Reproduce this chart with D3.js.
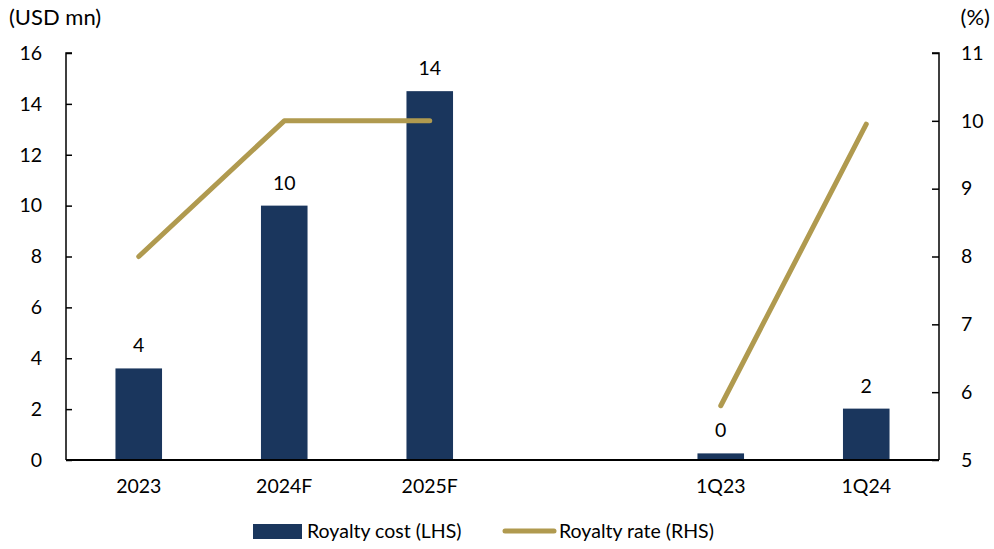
<!DOCTYPE html>
<html>
<head>
<meta charset="utf-8">
<script src="https://cdn.jsdelivr.net/npm/d3@7"></script>
<style>
  body { margin: 0; background: #fff; }
  svg text { font-family: Lato, "Open Sans", sans-serif; fill: #000; }
</style>
</head>
<body>
<svg id="chart" width="994" height="549"></svg>
<script>
// data
const categories = ['2023', '2024F', '2025F', '', '1Q23', '1Q24']
const royaltyCost = [3.6, 10, 14.5, null, 0.26, 2.02]
const costLabels = ['4', '10', '14', '', '0', '2']
const royaltyRate = [8, 10, 10, null, 5.8, 9.95]
const leftTicks = [0, 2, 4, 6, 8, 10, 12, 14, 16]
const rightTicks = [5, 6, 7, 8, 9, 10, 11]

const barColor = '#1a365d'
const lineColor = '#b09a4f'
const fontSize = 19.5

const svg = d3.select('#chart')
const margin = { top: 53, right: 55, bottom: 89, left: 66 }
const width = 994
const height = 549

const x = d3.scaleBand()
    .domain(categories.map((c, i) => i))
    .range([margin.left, width - margin.right])
    .paddingInner(0.68)
    .paddingOuter(0.34)

const yLeft = d3.scaleLinear().domain([0, 16]).range([height - margin.bottom, margin.top])
const yRight = d3.scaleLinear().domain([5, 11]).range([height - margin.bottom, margin.top])

// bars
svg.append('g').selectAll('rect')
    .data(royaltyCost.map((v, i) => ({ v, i })).filter(d => d.v !== null))
    .join('rect')
    .attr('x', d => x(d.i))
    .attr('width', x.bandwidth())
    .attr('y', d => yLeft(d.v))
    .attr('height', d => yLeft(0) - yLeft(d.v))
    .attr('fill', barColor)

// bar labels
svg.append('g').selectAll('text')
    .data(royaltyCost.map((v, i) => ({ v, i })).filter(d => d.v !== null))
    .join('text')
    .attr('x', d => x(d.i) + x.bandwidth() / 2)
    .attr('y', d => yLeft(d.v) - 16)
    .attr('text-anchor', 'middle')
    .attr('font-size', fontSize)
    .text(d => costLabels[d.i])

// line (broken at the empty category)
const line = d3.line()
    .defined(d => d.v !== null)
    .x(d => x(d.i) + x.bandwidth() / 2)
    .y(d => yRight(d.v))

svg.append('path')
    .datum(royaltyRate.map((v, i) => ({ v, i })))
    .attr('d', line)
    .attr('fill', 'none')
    .attr('stroke', lineColor)
    .attr('stroke-width', 5)
    .attr('stroke-linecap', 'round')
    .attr('stroke-linejoin', 'round')

// axes
const leftAxis = svg.append('g')
    .attr('transform', `translate(${margin.left},0)`)
    .call(d3.axisRight(yLeft).tickValues(leftTicks).tickSize(6).tickFormat(d3.format('d')))
leftAxis.select('.domain').attr('stroke', '#000').attr('stroke-width', 1.5)
    .attr('d', `M${6},${yLeft(16)}H0V${yLeft(0)}`)
leftAxis.selectAll('.tick line').attr('stroke', '#000').attr('stroke-width', 1.5)
leftAxis.selectAll('.tick text')
    .attr('x', -24).attr('text-anchor', 'end').attr('font-size', fontSize)
    .style('font-family', 'Lato, sans-serif').attr('fill', '#000')

const rightAxis = svg.append('g')
    .attr('transform', `translate(${width - margin.right},0)`)
    .call(d3.axisLeft(yRight).tickValues(rightTicks).tickSize(7).tickFormat(d3.format('d')))
rightAxis.select('.domain').attr('stroke', '#000').attr('stroke-width', 1.5)
    .attr('d', `M-7,${yRight(11)}H0V${yRight(5)}`)
rightAxis.selectAll('.tick line').attr('stroke', '#000').attr('stroke-width', 1.5)
rightAxis.selectAll('.tick text')
    .attr('x', 22).attr('text-anchor', 'start').attr('font-size', fontSize)
    .style('font-family', 'Lato, sans-serif').attr('fill', '#000')

const bottomAxis = svg.append('g')
    .attr('transform', `translate(0,${yLeft(0)})`)
    .call(d3.axisBottom(x).tickSize(0).tickFormat(i => categories[i]))
bottomAxis.select('.domain').attr('stroke', '#000').attr('stroke-width', 2)
    .attr('d', `M${margin.left},0H${width - margin.right}`)
bottomAxis.selectAll('.tick text')
    .attr('dy', 0).attr('y', 33).attr('font-size', fontSize)
    .style('font-family', 'Lato, sans-serif').attr('fill', '#000')

// axis titles
svg.append('text').attr('x', 9).attr('y', 25).attr('font-size', 22).text('(USD mn)')
svg.append('text').attr('x', 990).attr('y', 25).attr('text-anchor', 'end').attr('font-size', 22).text('(%)')

// legend
const legend = svg.append('g')
legend.append('rect').attr('x', 253).attr('y', 524).attr('width', 49).attr('height', 15).attr('fill', barColor)
legend.append('text').attr('x', 307).attr('y', 538).attr('font-size', fontSize).text('Royalty cost (LHS)')
legend.append('line').attr('x1', 505).attr('x2', 554).attr('y1', 531).attr('y2', 531)
    .attr('stroke', lineColor).attr('stroke-width', 5).attr('stroke-linecap', 'round')
legend.append('text').attr('x', 559).attr('y', 538).attr('font-size', fontSize).text('Royalty rate (RHS)')
</script>
</body>
</html>
